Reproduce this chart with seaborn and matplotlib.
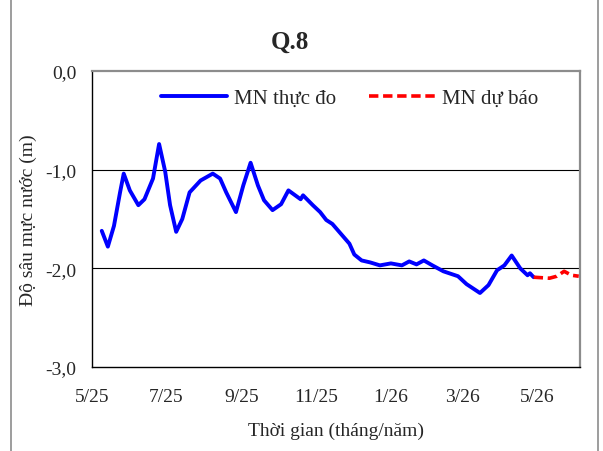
import matplotlib
matplotlib.use('Agg')
import matplotlib.pyplot as plt
import seaborn as sns
import pandas as pd

# Số liệu (ngày, độ sâu mực nước m)
ngay_do = ['2025-05-09', '2025-05-14', '2025-05-19', '2025-05-24', '2025-05-27', '2025-06-01',
           '2025-06-08', '2025-06-13', '2025-06-20', '2025-06-25', '2025-06-30', '2025-07-04',
           '2025-07-09', '2025-07-14', '2025-07-20', '2025-07-29', '2025-08-08', '2025-08-14',
           '2025-08-19', '2025-08-27', '2025-09-02', '2025-09-08', '2025-09-14', '2025-09-19',
           '2025-09-26', '2025-10-03', '2025-10-09', '2025-10-19', '2025-10-21', '2025-10-29',
           '2025-11-04', '2025-11-09', '2025-11-14', '2025-11-21', '2025-11-28', '2025-12-02',
           '2025-12-08', '2025-12-15', '2025-12-23', '2026-01-01', '2026-01-10', '2026-01-16',
           '2026-01-22', '2026-01-28', '2026-02-04', '2026-02-13', '2026-02-25', '2026-03-04',
           '2026-03-15', '2026-03-22', '2026-03-29', '2026-04-04', '2026-04-10', '2026-04-17',
           '2026-04-23', '2026-04-25', '2026-04-28']
mn_do = [-1.62, -1.78, -1.57, -1.23, -1.04, -1.21,
         -1.36, -1.30, -1.09, -0.74, -1.02, -1.36,
         -1.63, -1.50, -1.23, -1.11, -1.04, -1.09,
         -1.23, -1.43, -1.16, -0.93, -1.16, -1.31,
         -1.41, -1.35, -1.21, -1.30, -1.26, -1.36,
         -1.43, -1.51, -1.55, -1.65, -1.75, -1.86,
         -1.92, -1.94, -1.97, -1.95, -1.97, -1.93,
         -1.96, -1.92, -1.97, -2.03, -2.08, -2.16,
         -2.25, -2.17, -2.02, -1.97, -1.87, -2.00,
         -2.07, -2.05, -2.09]

ngay_db = ['2026-04-28', '2026-05-11', '2026-05-17', '2026-05-23', '2026-05-29', '2026-06-04']
mn_db = [-2.09, -2.10, -2.08, -2.03, -2.07, -2.08]

nhan_x = ['5/25', '7/25', '9/25', '11/25', '1/26', '3/26', '5/26']
moc_x = ['2025-05-01', '2025-07-01', '2025-09-01', '2025-11-01', '2026-01-01', '2026-03-01', '2026-05-01']
moc_y = [0, -1, -2, -3]
nhan_y = ['0,0', '-1,0', '-2,0', '-3,0']

df_do = pd.DataFrame({'Ngay': pd.to_datetime(ngay_do), 'MN': mn_do})
df_db = pd.DataFrame({'Ngay': pd.to_datetime(ngay_db), 'MN': mn_db})

sns.set_style('white')
plt.rcParams['font.family'] = ['Liberation Serif', 'DejaVu Serif']

fig = plt.figure(figsize=(6.03, 4.52), dpi=100)
ax = fig.add_axes([92/603, 1-368/452, (580-92)/603, (368-72)/452])

sns.lineplot(data=df_do, x='Ngay', y='MN', ax=ax, color='#0000ff', linewidth=2.8,
             label='MN thực đo', solid_joinstyle='round', solid_capstyle='round')
sns.lineplot(data=df_db, x='Ngay', y='MN', ax=ax, color='#ff0000', linewidth=2.6,
             linestyle=(0, (2.6, 1.3)), label='MN dự báo')

ax.set_xlim(pd.Timestamp('2025-05-01'), pd.Timestamp('2026-06-05'))
ax.set_ylim(-3, 0)
ax.set_xticks(pd.to_datetime(moc_x))
ax.set_xticklabels(nhan_x, fontsize=14)
ax.set_yticks(moc_y)
ax.set_yticklabels(nhan_y, fontsize=14)
ax.tick_params(axis='both', direction='out', length=4, width=0.8, color='black')
ax.tick_params(axis='y', pad=7)
ax.tick_params(axis='x', pad=11)

for y in [-1, -2]:
    ax.axhline(y, color='black', linewidth=0.8, zorder=0)

ax.spines['left'].set_color('black')
ax.spines['bottom'].set_color('black')
ax.spines['top'].set_color('#8c8c8c')
ax.spines['right'].set_color('#8c8c8c')
ax.spines['top'].set_linewidth(1.6)
ax.spines['right'].set_linewidth(1.6)
ax.spines['left'].set_linewidth(1.0)
ax.spines['bottom'].set_linewidth(1.0)

ax.set_xlabel('Thời gian (tháng/năm)', fontsize=14, labelpad=12)
ax.set_ylabel('Độ sâu mực nước (m)', fontsize=14, labelpad=6)

leg = ax.legend(loc='center left', bbox_to_anchor=((160.7-92)/488, (368-99)/296), ncol=2,
                frameon=False, fontsize=15, handlelength=3.2, columnspacing=1.6,
                handletextpad=0.3, borderpad=0, borderaxespad=0)

fig.text(290/603, 1-42/452, 'Q.8', fontsize=18, fontweight='bold', ha='center', va='center')

# khung biểu đồ
fig.add_artist(plt.Line2D([11/603, 11/603], [0, 1], color='#8c8c8c', linewidth=1.2))
fig.add_artist(plt.Line2D([598/603, 598/603], [0, 1], color='#8c8c8c', linewidth=1.2))

plt.savefig('out.png', dpi=100)
